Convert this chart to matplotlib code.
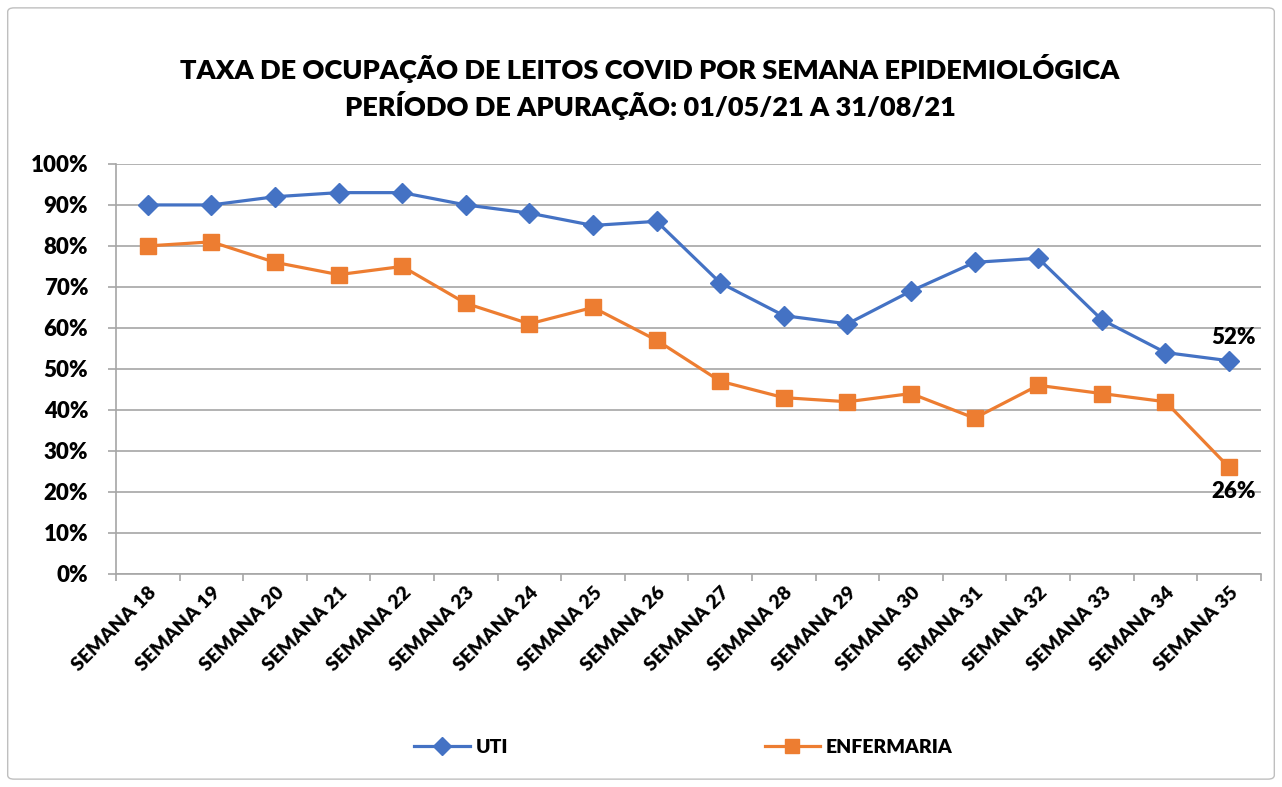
import matplotlib.pyplot as plt
from matplotlib.patches import FancyBboxPatch
from matplotlib.ticker import FuncFormatter, MultipleLocator

plt.rcParams['font.family'] = ['Lato', 'DejaVu Sans']
W = "heavy"

# data
semanas = [f"SEMANA {n}" for n in range(18, 36)]
uti = [90, 90, 92, 93, 93, 90, 88, 85, 86, 71, 63, 61, 69, 76, 77, 62, 54, 52]
enfermaria = [80, 81, 76, 73, 75, 66, 61, 65, 57, 47, 43, 42, 44, 38, 46, 44, 42, 26]

blue = "#4472C4"
orange = "#ED7D31"
grid_c = "#A6A6A6"

fig = plt.figure(figsize=(12.82, 7.87), dpi=100)
ax = fig.add_axes([0.0905, 0.2707, 0.893, 0.521])

x = list(range(len(semanas)))
ax.plot(x, uti, color=blue, lw=2.3, marker="D", ms=10, label="UTI")
ax.plot(x, enfermaria, color=orange, lw=2.3, marker="s", ms=11.5, label="ENFERMARIA")

ax.annotate(f"{uti[-1]}%", (x[-1], uti[-1]), xytext=(3, 9), textcoords="offset points",
            ha="center", va="bottom", fontsize=16, fontweight=W)
ax.annotate(f"{enfermaria[-1]}%", (x[-1], enfermaria[-1]), xytext=(3, -10), textcoords="offset points",
            ha="center", va="top", fontsize=16, fontweight=W)

ax.set_xlim(-0.5, len(semanas) - 0.5)
ax.set_ylim(0, 100)
ax.yaxis.set_major_locator(MultipleLocator(10))
ax.yaxis.set_major_formatter(FuncFormatter(lambda v, p: f"{v:.0f}%"))
ax.grid(axis="y", color=grid_c, lw=1.2)
ax.set_axisbelow(True)

ax.set_xticks([i - 0.5 for i in range(len(semanas) + 1)], minor=False)
ax.set_xticklabels([])
ax.set_xticks(x, minor=True)
ax.set_xticklabels(semanas, minor=True, rotation=45, ha="right", rotation_mode="anchor",
                   fontsize=14, fontweight=W)
ax.tick_params(axis="x", which="minor", length=0, pad=7)
ax.tick_params(axis="x", which="major", length=5, color=grid_c, width=1.2)
ax.tick_params(axis="y", length=6, color=grid_c, width=1.2, labelsize=16, pad=14)
for lab in ax.get_yticklabels():
    lab.set_fontweight(W)

for side in ["top", "right"]:
    ax.spines[side].set_visible(False)
for side in ["left", "bottom"]:
    ax.spines[side].set_color(grid_c)
    ax.spines[side].set_linewidth(1.2)

fig.text(0.507, 0.913, "TAXA DE OCUPAÇÃO DE LEITOS COVID POR SEMANA EPIDEMIOLÓGICA",
         ha="center", va="center", fontsize=19.5, fontweight=W)
fig.text(0.507, 0.866, "PERÍODO DE APURAÇÃO: 01/05/21 A 31/08/21",
         ha="center", va="center", fontsize=19.5, fontweight=W)

fig.legend(loc="center", bbox_to_anchor=(0.533, 0.05), ncol=2, frameon=False,
           prop={"size": 14, "weight": W}, columnspacing=13.2, handlelength=2.85,
           handletextpad=0.3, markerscale=0.9)

border = FancyBboxPatch((0.006, 0.01), 0.988, 0.98, boxstyle="round,pad=0,rounding_size=0.005",
                        transform=fig.transFigure, fill=False, edgecolor="#BFBFBF", lw=1)
fig.patches.append(border)

fig.savefig("out.png", dpi=100)
